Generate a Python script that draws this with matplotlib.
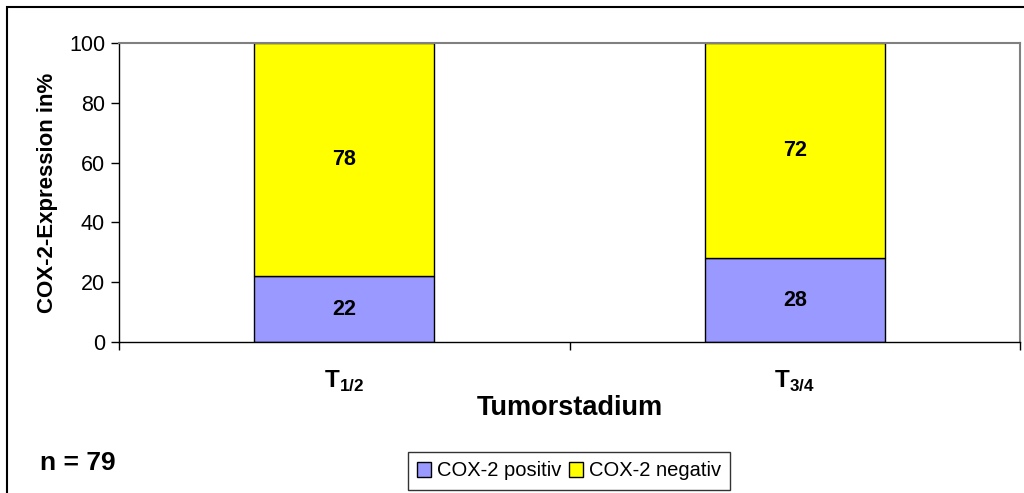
import matplotlib
matplotlib.use("Agg")
import matplotlib.pyplot as plt
import matplotlib.patches as mpatches
import numpy as np

plt.rcParams['font.family'] = ['Liberation Sans', 'DejaVu Sans']
plt.rcParams['mathtext.fontset'] = 'custom'
plt.rcParams['mathtext.rm'] = 'Liberation Sans'
plt.rcParams['mathtext.bf'] = 'Liberation Sans:bold'

# data
categories = [r'$\mathbf{T}_{\mathbf{1/2}}$', r'$\mathbf{T}_{\mathbf{3/4}}$']
positiv = [22, 28]
negativ = [78, 72]
series_names = ['COX-2 positiv', 'COX-2 negativ']
yticks = [0, 20, 40, 60, 80, 100]

fig = plt.figure(figsize=(10.24, 4.93), dpi=100)
ax = fig.add_axes([119 / 1024, 1 - 342 / 493, 901 / 1024, 299 / 493])

x = np.arange(len(categories))
w = 0.4
b1 = ax.bar(x, positiv, w, color='#9999FF', edgecolor='black', linewidth=1.0,
            label=series_names[0])
b2 = ax.bar(x, negativ, w, bottom=positiv, color='#FFFF00', edgecolor='black',
            linewidth=1.0, label=series_names[1])

for i in range(len(x)):
    ax.text(x[i], positiv[i] / 2, str(positiv[i]), ha='center', va='center',
            fontsize=15.5, fontweight='bold')
    ax.text(x[i], positiv[i] + negativ[i] / 2, str(negativ[i]), ha='center',
            va='center', fontsize=15.5, fontweight='bold')

ax.set_xlim(-0.5, len(categories) - 0.5)
ax.set_ylim(0, 100)
ax.set_yticks(yticks)
ax.tick_params(axis='y', direction='out', length=6, width=1, labelsize=15.5, pad=4)

# category boundaries as major ticks, labels at centers
ax.set_xticks(np.arange(-0.5, len(categories), 1.0))
ax.set_xticklabels([])
ax.tick_params(axis='x', which='major', direction='out', length=6, width=1)
ax.set_xticks(x, minor=True)
ax.set_xticklabels(categories, minor=True, fontsize=17.5)
ax.tick_params(axis='x', which='minor', length=0, pad=19)

ax.set_ylabel('COX-2-Expression in%', fontsize=16, fontweight='bold', labelpad=8)
ax.set_xlabel('Tumorstadium', fontsize=19.5, fontweight='bold', labelpad=1)

for s in ['top', 'right']:
    ax.spines[s].set_color('#808080')
    ax.spines[s].set_linewidth(1.5)
for s in ['left', 'bottom']:
    ax.spines[s].set_color('black')
    ax.spines[s].set_linewidth(1.0)

fig.text(40 / 1024, 1 - 463 / 493, 'n = 79', fontsize=19, fontweight='bold',
         ha='left', va='center')

fig.legend(handles=[b1, b2], loc='center', bbox_to_anchor=(569 / 1024, 1 - 471 / 493),
           ncol=2, fontsize=14.5, frameon=True, fancybox=False, edgecolor='black',
           handlelength=0.7, handleheight=0.7, handletextpad=0.3, columnspacing=0.4,
           borderpad=0.45, borderaxespad=0)

# outer border of the chart
fig.patches.append(mpatches.Rectangle((7 / 1024, -0.05), 1.1, 1 - 7 / 493 + 0.05,
                                      transform=fig.transFigure, fill=False,
                                      edgecolor='black', linewidth=1.5))

fig.savefig('out.png', dpi=100)
